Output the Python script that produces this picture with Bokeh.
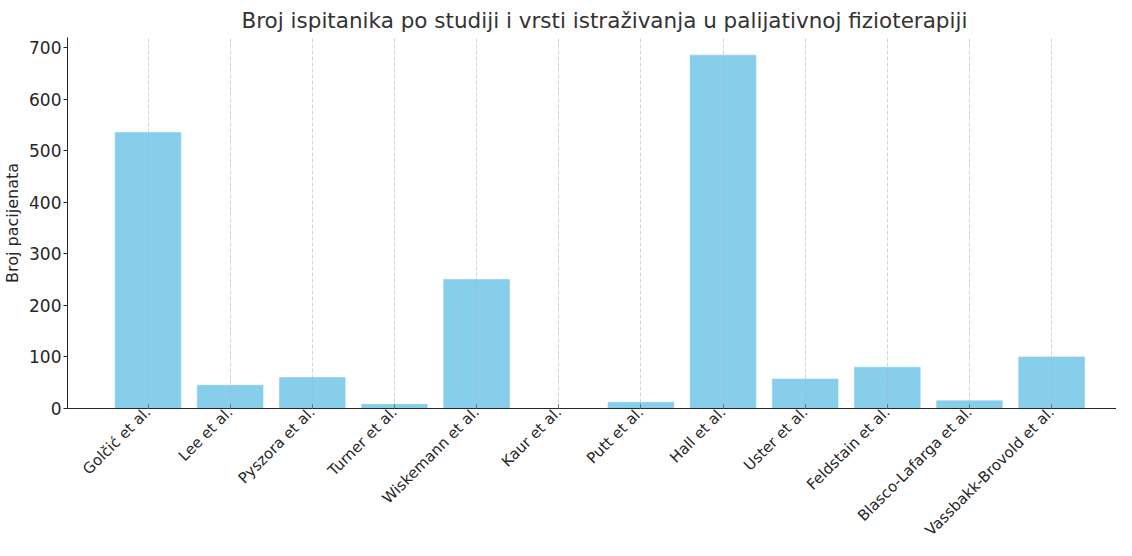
import math
from bokeh.plotting import figure
from bokeh.models import FixedTicker, Range1d, ColumnDataSource
from bokeh.embed import file_html
from bokeh.resources import INLINE

studies = ["Golčić et al.", "Lee et al.", "Pyszora et al.", "Turner et al.",
           "Wiskemann et al.", "Kaur et al.", "Putt et al.", "Hall et al.",
           "Uster et al.", "Feldstain et al.", "Blasco-Lafarga et al.",
           "Vassbakk-Brovold et al."]
patients = [535, 45, 60, 8, 250, 0, 12, 685, 57, 80, 15, 100]
y_ticks = [0, 100, 200, 300, 400, 500, 600, 700]

xs = list(range(len(studies)))
src = ColumnDataSource(dict(x=xs, top=patients))

FONT = "DejaVu Sans"

p = figure(width=1116, height=548, output_backend="svg", toolbar_location=None,
           x_range=Range1d(-0.98, 11.79), y_range=Range1d(0, max(patients) * 1.05),
           min_border_left=60, min_border_top=30, min_border_right=0, min_border_bottom=0,
           title="Broj ispitanika po studiji i vrsti istraživanja u palijativnoj fizioterapiji")

p.vbar(x="x", top="top", width=0.8, source=src, fill_color="#87CEEB",
       line_color="#87CEEB", line_alpha=0.6)

p.title.text_font = FONT
p.title.text_font_size = "21.5px"
p.title.text_font_style = "normal"
p.title.text_color = "#333333"
p.title.align = "left"
p.title.offset = 174

p.outline_line_color = None

p.xaxis.ticker = FixedTicker(ticks=xs)
p.xaxis.major_label_overrides = {i: s for i, s in enumerate(studies)}
p.xaxis.major_label_orientation = math.pi / 4
p.xaxis.major_label_text_font = FONT
p.xaxis.major_label_text_font_size = "15px"
p.xaxis.major_label_text_color = "#262626"
p.xaxis.major_label_standoff = 1
p.xaxis.minor_tick_line_color = None
p.xaxis.major_tick_in = 4
p.xaxis.major_tick_out = 0
p.xaxis.axis_line_color = "#262626"
p.xaxis.major_tick_line_color = "#262626"

p.yaxis.ticker = FixedTicker(ticks=y_ticks)
p.yaxis.major_label_text_font = FONT
p.yaxis.major_label_text_font_size = "17px"
p.yaxis.major_label_text_color = "#262626"
p.yaxis.major_label_standoff = 2
p.yaxis.minor_tick_line_color = None
p.yaxis.major_tick_in = 0
p.yaxis.major_tick_out = 4
p.yaxis.axis_line_color = "#262626"
p.yaxis.major_tick_line_color = "#262626"
p.yaxis.axis_label = "Broj pacijenata"
p.yaxis.axis_label_text_font = FONT
p.yaxis.axis_label_text_font_size = "16px"
p.yaxis.axis_label_text_font_style = "normal"
p.yaxis.axis_label_text_color = "#262626"
p.yaxis.axis_label_standoff = 4

p.ygrid.grid_line_color = None
p.xgrid.grid_line_color = "#b0b0b0"
p.xgrid.grid_line_alpha = 0.7
p.xgrid.grid_line_dash = "4 2"
p.xgrid.grid_line_width = 0.8
p.xgrid.level = "overlay"

open("out.html", "w").write(file_html(p, INLINE))
